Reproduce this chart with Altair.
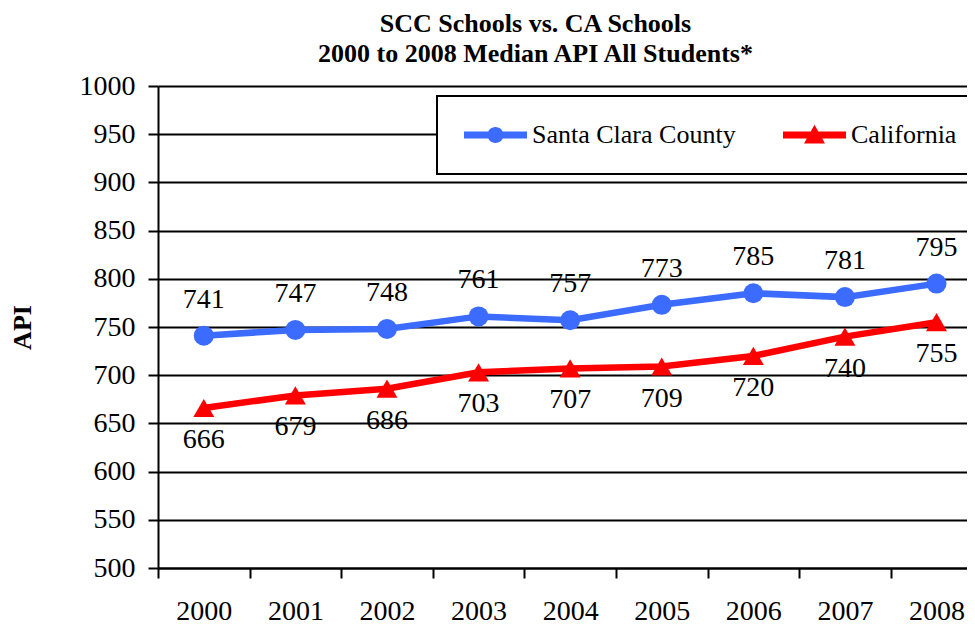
import altair as alt
import pandas as pd

years = ["2000", "2001", "2002", "2003", "2004", "2005", "2006", "2007", "2008"]
scc = [741, 747, 748, 761, 757, 773, 785, 781, 795]
ca = [666, 679, 686, 703, 707, 709, 720, 740, 755]
series_names = ["Santa Clara County", "California"]
colors = ["#3B6CFF", "#FF0000"]
y_ticks = [500, 550, 600, 650, 700, 750, 800, 850, 900, 950, 1000]

rows = []
for i, yr in enumerate(years):
    rows.append({"idx": i, "year": yr, "series": series_names[0], "value": scc[i]})
    rows.append({"idx": i, "year": yr, "series": series_names[1], "value": ca[i]})
df = pd.DataFrame(rows)

FONT = "Liberation Serif"
FS = 28
W = 809
H = 482
step = 91.59
DOM = [-0.5, -0.5 + W / step]

x_enc = alt.X(
    "idx:Q",
    scale=alt.Scale(domain=DOM, nice=False, zero=False),
    axis=alt.Axis(
        values=[i - 0.5 for i in range(len(years))],
        labelExpr="toString(datum.value + 2000.5)",
        labelOffset=step / 2,
        grid=False,
        title=None,
        tickSize=10,
        tickWidth=2,
        tickColor="black",
        domainColor="black",
        domainWidth=2,
        labelFont=FONT,
        labelFontSize=FS,
        labelColor="black",
        labelPadding=19,
        labelFlush=False,
        labelOverlap=False,
        labelBound=False,
    ),
)
y_enc = alt.Y(
    "value:Q",
    scale=alt.Scale(domain=[500, 1000], nice=False, zero=False),
    axis=alt.Axis(
        values=y_ticks,
        format="d",
        title="API",
        titleFont=FONT,
        titleFontSize=26,
        titleFontWeight="bold",
        titleColor="black",
        titlePadding=44,
        labelFont=FONT,
        labelFontSize=FS,
        labelColor="black",
        labelPadding=13,
        tickSize=10,
        tickWidth=2,
        tickColor="black",
        domainColor="black",
        domainWidth=2,
        grid=True,
        gridColor="black",
        gridWidth=2,
        gridOpacity=1,
    ),
)

base = alt.Chart(df).encode(x=x_enc, y=y_enc)
scc_base = base.transform_filter(alt.datum.series == series_names[0])
ca_base = base.transform_filter(alt.datum.series == series_names[1])

line_scc = scc_base.mark_line(strokeWidth=6.5, color=colors[0])
line_ca = ca_base.mark_line(strokeWidth=6.5, color=colors[1])

pts_scc = scc_base.mark_point(
    filled=True, shape="circle", size=400, opacity=1, color=colors[0]
)
pts_ca = ca_base.mark_point(
    filled=True, shape="triangle-up", size=440, opacity=1, color=colors[1]
)

txt_scc = scc_base.mark_text(dy=-36, font=FONT, fontSize=FS, color="black").encode(
    text="value:Q"
)
txt_ca = ca_base.mark_text(dy=32, font=FONT, fontSize=FS, color="black").encode(
    text="value:Q"
)

# legend symbols: line segment with marker (custom paths), unit = 12px
leg_paths = [
    "M-1,-0.3H4.25V0.3H-1Z M2.292,0A0.667,0.667,0,1,1,0.958,0A0.667,0.667,0,1,1,2.292,0Z",
    "M-1,-0.3H4.25V0.3H-1Z M1.625,-0.85L2.5,0.7L0.75,0.7Z",
]
legend_props = dict(
    orient="none",
    legendX=279,
    legendY=10,
    direction="horizontal",
    title=None,
    labelFont=FONT,
    labelFontSize=26,
    labelColor="black",
    labelLimit=500,
    labelOffset=43,
    symbolSize=576,
    symbolStrokeWidth=0,
    symbolOpacity=1,
    columnPadding=46,
    padding=26,
    strokeColor="black",
    fillColor="white",
)
legend_layer = base.transform_filter("false").mark_point(
    filled=True, size=576, opacity=1
).encode(
    color=alt.Color(
        "series:N",
        scale=alt.Scale(domain=series_names, range=colors),
        legend=alt.Legend(**legend_props),
    ),
    shape=alt.Shape(
        "series:N",
        scale=alt.Scale(domain=series_names, range=leg_paths),
        legend=alt.Legend(**legend_props),
    ),
)

chart = (
    alt.layer(line_ca, line_scc, pts_ca, pts_scc, txt_scc, txt_ca, legend_layer)
    .properties(
        width=W,
        height=H,
        autosize=alt.AutoSizeParams(type="none"),
        padding={"left": 150, "top": 78, "right": 0, "bottom": 56},
        title=alt.TitleParams(
            ["SCC Schools vs. CA Schools", "2000 to 2008 Median API All Students*"],
            font=FONT,
            fontSize=26,
            fontWeight="bold",
            color="black",
            lineHeight=30,
            anchor="middle",
            dx=-27,
            offset=5,
        ),
    )
    .configure_view(stroke=None)
    .configure_legend(strokeWidth=2)
)

chart.save("out.html", embed_options={"renderer": "svg", "actions": False})
